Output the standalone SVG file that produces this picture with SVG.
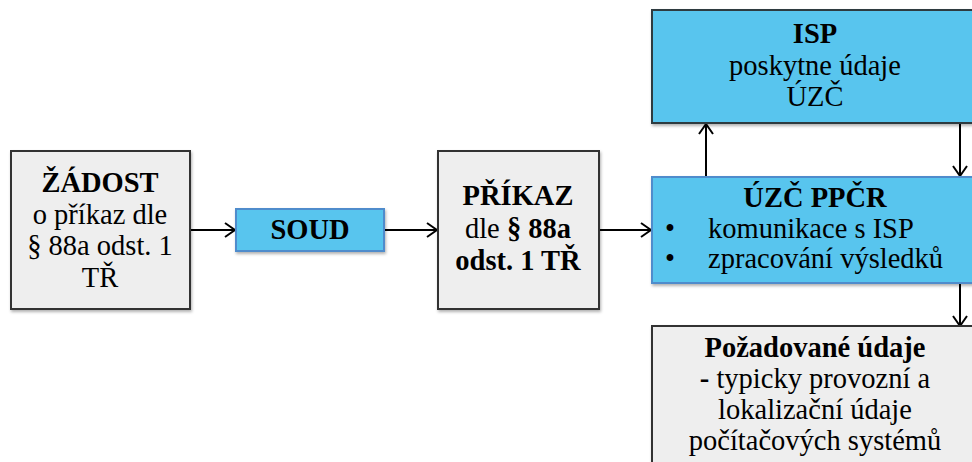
<svg xmlns="http://www.w3.org/2000/svg" width="972" height="462" viewBox="0 0 972 462">
<style>
text{font-family:"Liberation Serif","DejaVu Serif",serif;font-size:28.5px;fill:#000;text-anchor:middle}
.b{font-weight:bold}
.gray{fill:#eeeeee;stroke:#333333;stroke-width:2}
.blue{fill:#59c5ee;stroke:#2f3a40;stroke-width:2}
.blue2{fill:#59c5ee;stroke:#4f8ccc;stroke-width:2}
.conn{stroke:#000;stroke-width:2;fill:none;marker-end:url(#arr)}
</style>
<defs>
<marker id="arr" viewBox="0 0 12 16" refX="11" refY="8" markerWidth="12" markerHeight="16" markerUnits="userSpaceOnUse" orient="auto">
<polyline points="1,1 11,8 1,15" fill="none" stroke="#000" stroke-width="2"/>
</marker>
<filter id="sh" x="-10%" y="-10%" width="130%" height="130%">
<feDropShadow dx="1" dy="2" stdDeviation="1.5" flood-color="#000" flood-opacity="0.3"/>
</filter>
</defs>
<g id="connectors">
<line class="conn" x1="190" y1="230" x2="235" y2="230"/>
<line class="conn" x1="384" y1="230" x2="437" y2="230"/>
<line class="conn" x1="599" y1="230" x2="651" y2="230"/>
<line class="conn" x1="706" y1="177" x2="706" y2="124"/>
<line class="conn" x1="960" y1="123" x2="960" y2="176"/>
<line class="conn" x1="960" y1="283" x2="960" y2="326"/>
</g>
<g id="zadost">
<rect class="gray" x="11" y="151" width="179" height="158" filter="url(#sh)"/>
<text x="100" y="192" class="b">ŽÁDOST</text>
<text x="100" y="224">o příkaz dle</text>
<text x="100" y="255">§ 88a odst. 1</text>
<text x="100" y="287">TŘ</text>
</g>
<g id="soud">
<rect class="blue2" x="236" y="209" width="148" height="42" filter="url(#sh)"/>
<text x="310" y="239" class="b">SOUD</text>
</g>
<g id="prikaz">
<rect class="gray" x="438" y="151" width="161" height="158" filter="url(#sh)"/>
<text x="518" y="205" class="b">PŘÍKAZ</text>
<text x="518" y="238">dle <tspan class="b">§ 88a</tspan></text>
<text x="518" y="270" class="b">odst. 1 TŘ</text>
</g>
<g id="isp">
<rect class="blue" x="652" y="10" width="330" height="113" filter="url(#sh)"/>
<text x="815" y="43" class="b">ISP</text>
<text x="815" y="75">poskytne údaje</text>
<text x="815" y="106">ÚZČ</text>
</g>
<g id="uzc">
<rect class="blue2" x="652" y="177" width="330" height="106" filter="url(#sh)"/>
<text x="815" y="207" class="b">ÚZČ PPČR</text>
<text x="670" y="238">•</text>
<text x="708" y="238" style="text-anchor:start">komunikace s ISP</text>
<text x="670" y="268">•</text>
<text x="708" y="268" style="text-anchor:start">zpracování výsledků</text>
</g>
<g id="pozadovane">
<rect class="gray" x="652" y="326" width="330" height="146" filter="url(#sh)"/>
<text x="815" y="357" class="b">Požadované údaje</text>
<text x="815" y="388"><tspan class="b">-</tspan> typicky provozní a</text>
<text x="815" y="419">lokalizační údaje</text>
<text x="815" y="450">počítačových systémů</text>
</g>
</svg>
